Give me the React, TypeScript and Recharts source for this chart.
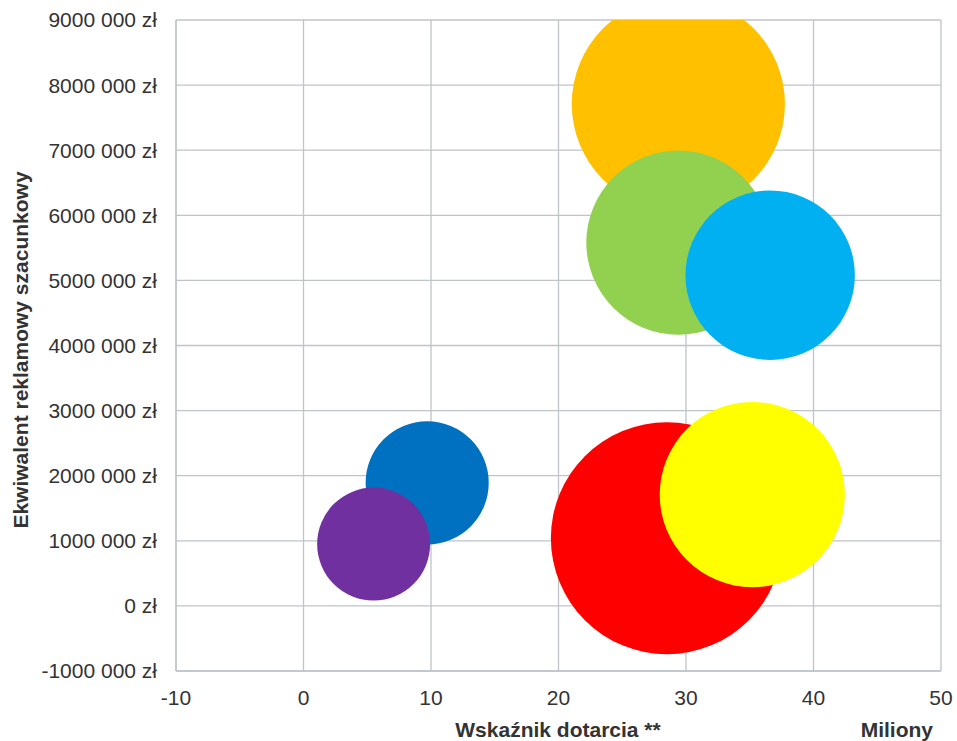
import { CartesianGrid, Cell, Scatter, ScatterChart, XAxis, YAxis, ZAxis } from "recharts";

// bubble data (x: reach in millions, y: ad equivalent in zł, z: bubble size)
const xValues = [29.4, 29.4, 36.6, 28.5, 35.2, 9.7, 5.5];
const yValues = [7710000, 5580000, 5080000, 1040000, 1710000, 1890000, 950000];
const sizes = [11.4, 8.5, 7.2, 13.5, 8.6, 3.8, 3.2];
const colors = ["#FFC000", "#92D050", "#00B0F0", "#FF0000", "#FFFF00", "#0070C0", "#7030A0"];

const xTicks = [-10, 0, 10, 20, 30, 40, 50];
const yTicks = [-1000000, 0, 1000000, 2000000, 3000000, 4000000, 5000000, 6000000, 7000000, 8000000, 9000000];
const yTickLabels = [
  "-1000 000 zł",
  "0 zł",
  "1000 000 zł",
  "2000 000 zł",
  "3000 000 zł",
  "4000 000 zł",
  "5000 000 zł",
  "6000 000 zł",
  "7000 000 zł",
  "8000 000 zł",
  "9000 000 zł",
];

const FONT = "'Liberation Sans', Arial, sans-serif";
const TEXT = "#333333";
const GRID = "#BFC4C8";
const MAX_R = 116;

const data = xValues.map((x, i) => ({ x, y: yValues[i], z: sizes[i] }));

export default function App() {
  return (
    <div style={{ position: "absolute", left: 0, top: 0, width: 957, height: 741, background: "#fff", fontFamily: FONT }}>
      <ScatterChart width={957} height={741} margin={{ top: 20, right: 16, bottom: 0, left: 0 }}>
        <CartesianGrid stroke={GRID} strokeWidth={1.3} />
        <XAxis
          type="number"
          dataKey="x"
          domain={[-10, 50]}
          ticks={xTicks}
          height={70}
          tickLine={false}
          tickSize={0}
          tickMargin={19}
          axisLine={{ stroke: GRID, strokeWidth: 1.3 }}
          tick={{ fontSize: 21, fill: TEXT, fontFamily: FONT }}
        />
        <YAxis
          type="number"
          dataKey="y"
          domain={[-1000000, 9000000]}
          ticks={yTicks}
          allowDataOverflow
          width={176}
          tickLine={false}
          tickSize={0}
          tickMargin={19}
          axisLine={{ stroke: GRID, strokeWidth: 1.3 }}
          tick={{ fontSize: 21, fill: TEXT, fontFamily: FONT }}
          tickFormatter={(v: number) => yTickLabels[yTicks.indexOf(v)] ?? String(v)}
        />
        <ZAxis type="number" dataKey="z" domain={[0, 13.5]} range={[0, Math.PI * MAX_R * MAX_R]} />
        <Scatter data={data} isAnimationActive={false}>
          {data.map((_, i) => (
            <Cell key={i} fill={colors[i]} />
          ))}
        </Scatter>
      </ScatterChart>
      <svg width={957} height={741} style={{ position: "absolute", left: 0, top: 0, pointerEvents: "none" }}>
        <text x={558} y={737} textAnchor="middle" fontSize={21} fontWeight="bold" fill={TEXT} fontFamily={FONT}>
          Wskaźnik dotarcia **
        </text>
        <text x={933} y={737} textAnchor="end" fontSize={21} fontWeight="bold" fill={TEXT} fontFamily={FONT}>
          Miliony
        </text>
        <text
          transform="translate(28, 350) rotate(-90)"
          textAnchor="middle"
          fontSize={21}
          fontWeight="bold"
          fill={TEXT}
          fontFamily={FONT}
        >
          Ekwiwalent reklamowy szacunkowy
        </text>
      </svg>
    </div>
  );
}
